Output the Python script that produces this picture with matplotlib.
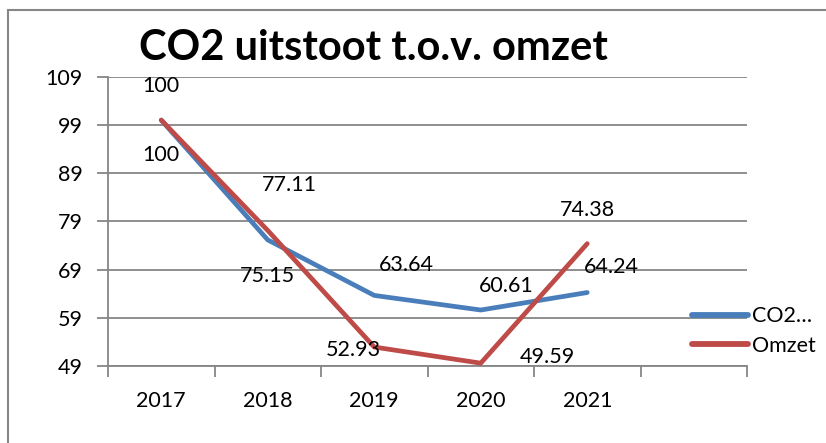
import matplotlib.pyplot as plt
from matplotlib.ticker import FixedLocator, NullFormatter

# data
years = ["2017", "2018", "2019", "2020", "2021"]
co2 = [100, 75.15, 63.64, 60.61, 64.24]
omzet = [100, 77.11, 52.93, 49.59, 74.38]
yticks = [49, 59, 69, 79, 89, 99, 109]

# label offsets in pixels (dx, dy), copied by eye from the chart
co2_off = [(0, -35), (0, -36), (32, 30), (26, 24), (24, 26)]
omzet_off = [(0, 34), (22, 45), (-21, -3), (67, 6), (0, 34)]

plt.rcParams["font.family"] = ["Lato", "DejaVu Sans"]
grey = "#868686"
blue = "#4A7EBB"
red = "#BE4B48"
fs = 15.5

fig = plt.figure(figsize=(8.26, 4.43), dpi=100)
ax = fig.add_axes([108 / 826, 1 - 366 / 443, (747 - 108) / 826, (366 - 76.7) / 443])

x = range(len(years))
ax.plot(x, co2, color=blue, lw=3.4, solid_capstyle="round", solid_joinstyle="round", label="CO2…", zorder=3)
ax.plot(x, omzet, color=red, lw=3.4, solid_capstyle="round", solid_joinstyle="round", label="Omzet", zorder=4)

for i, v in enumerate(co2):
    ax.annotate(f"{v:g}", (i, v), xytext=co2_off[i], textcoords="offset pixels",
                ha="center", va="center", fontsize=fs, zorder=5)
for i, v in enumerate(omzet):
    ax.annotate(f"{v:g}", (i, v), xytext=omzet_off[i], textcoords="offset pixels",
                ha="center", va="center", fontsize=fs, zorder=5)

ax.set_xlim(-0.5, len(years) + 0.5)
ax.set_ylim(yticks[0], yticks[-1])
ax.set_yticks(yticks)
ax.yaxis.grid(True, color=grey, lw=1.3)
ax.set_axisbelow(True)

# category boundaries as major ticks, names on minor ticks
ax.xaxis.set_major_locator(FixedLocator([i - 0.5 for i in range(len(years) + 2)]))
ax.xaxis.set_major_formatter(NullFormatter())
ax.xaxis.set_minor_locator(FixedLocator(list(x)))
ax.set_xticklabels(years, minor=True)
ax.tick_params(axis="x", which="major", length=8, width=1.3, color=grey)
ax.tick_params(axis="x", which="minor", length=0, pad=18, labelsize=fs)
ax.tick_params(axis="y", length=8, width=1.3, color=grey, pad=10, labelsize=fs)

for s in ["top", "right"]:
    ax.spines[s].set_visible(False)
for s in ["left", "bottom"]:
    ax.spines[s].set_color(grey)
    ax.spines[s].set_linewidth(1.3)

fig.text(373 / 826, 1 - 48 / 443, "CO2 uitstoot t.o.v. omzet", ha="center", va="center",
         fontsize=30, fontweight="bold")

leg = ax.legend(loc="center left", bbox_to_anchor=(692 / 826, 1 - 331 / 443), bbox_transform=fig.transFigure,
                frameon=False, fontsize=fs, handlelength=2.6, handletextpad=0.2, labelspacing=0.45,
                borderpad=0, borderaxespad=0)
for h in leg.get_lines():
    h.set_linewidth(4.2)

# outer chart frame
fig.add_artist(plt.Rectangle((8 / 826, -0.2), 1.2, 1.2 - 10 / 443, transform=fig.transFigure,
                             fill=False, edgecolor=grey, lw=1.5))

fig.savefig("out.png", dpi=100)
